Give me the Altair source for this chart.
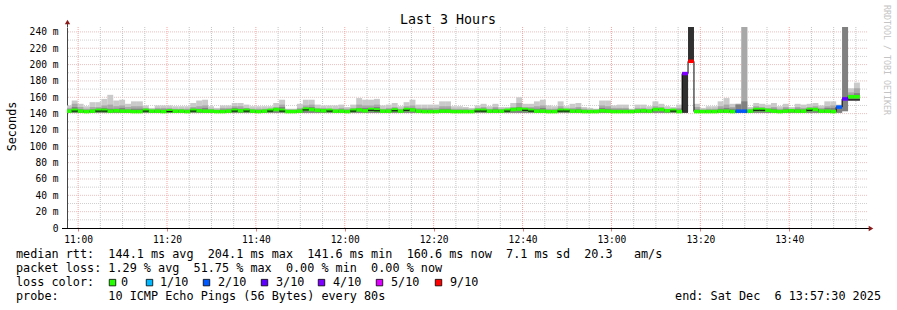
import altair as alt
import pandas as pd
from datetime import datetime, timedelta

# ---------------- data ----------------
T_START = datetime(2025, 12, 6, 10, 57, 30)
T_END = datetime(2025, 12, 6, 13, 57, 30)
FIRST_BIN = datetime(2025, 12, 6, 10, 57, 14)
STEP_S = 80

# smoke: outer (lightest) top
hi = [150,156,152,149,154,154,158,163,156,157,
      152,155,155,150,147,150,150,150,149,149,
      149,153,156,157,149,147,150,150,153,153,
      151,149,149,149,149,153,157,146,146,152,
      157,157,151,150,150,150,151,148,151,159,
      157,157,158,150,151,153,149,154,157,151,
      151,151,151,155,155,149,149,148,147,150,
      152,149,152,148,148,153,160,152,152,155,
      157,150,149,155,149,152,153,148,147,146,
      156,156,150,151,151,146,151,151,149,155,
      152,149,148,151,190,250,152,147,149,149,
      155,159,152,152,250,148,153,152,151,153,
      149,152,148,152,151,152,153,150,155,155,
      151,250,171,178]
# smoke: middle band top
mid = [147,152,148,146,148,148,150,151,149,150,
       148,149,149,147,145,147,147,147,146,146,
       146,148,149,150,146,145,147,147,149,149,
       147,146,146,146,146,148,151,145,145,147,
       150,151,147,147,146,146,147,146,147,151,
       150,150,151,146,147,148,146,149,150,147,
       147,147,147,149,149,146,146,146,145,147,
       148,146,148,146,146,148,153,148,148,149,
       150,146,146,149,146,147,148,146,145,145,
       150,149,147,147,147,145,147,147,146,149,
       148,146,146,147,190,250,148,145,146,146,
       149,151,148,152,250,146,149,148,147,148,
       146,148,146,148,147,148,149,147,149,150,
       148,250,166,171]
# smoke: dark inner band top
dk = [145,148,145,144,145,146,147,146,146,147,
      145,146,146,145,144,145,145,145,144,144,
      144,146,146,147,144,144,145,145,147,146,
      146,144,144,144,145,146,148,144,144,145,
      147,148,145,145,145,144,145,144,145,147,
      147,147,148,144,145,146,144,146,147,145,
      145,145,144,146,146,144,144,144,144,145,
      146,144,146,144,145,146,148,146,146,146,
      147,144,144,146,145,145,146,144,144,144,
      147,146,145,145,145,144,145,145,144,146,
      146,144,144,145,190,250,145,144,144,144,
      146,147,146,151,155,144,147,146,145,146,
      144,146,144,146,145,146,146,145,147,147,
      149,250,163,165]
# smoke bottom
lo = [141,141,141,141,141,141,141,141,141,141,
      141,141,141,141,141,141,141,141,141,141,
      141,141,141,141,141,141,141,141,141,141,
      141,141,141,141,141,141,141,141,141,141,
      141,141,141,141,141,141,141,141,141,141,
      141,141,141,141,141,141,141,141,141,141,
      141,141,141,141,141,141,141,141,141,141,
      141,141,141,141,141,141,141,141,141,141,
      141,141,141,141,141,141,141,141,141,141,
      141,141,141,141,141,141,141,141,141,141,
      141,141,141,141,141,204,141,141,141,141,
      141,141,141,141,141,141,141,141,141,141,
      141,141,141,141,141,141,141,141,141,141,
      141,143,156,156]
# darkest smoke top (only where visible)
blk = [141,141,141,141,141,141,141,141,141,141,
       141,141,141,141,141,141,141,141,141,141,
       141,141,141,141,141,141,141,141,141,141,
       141,141,141,141,141,141,141,141,141,141,
       141,141,141,141,141,141,141,141,141,141,
       141,141,141,141,141,141,141,141,141,141,
       141,141,141,141,141,141,141,141,141,141,
       141,141,141,141,141,141,141,141,141,141,
       141,141,141,141,141,141,141,141,141,141,
       141,141,141,141,141,141,141,141,141,141,
       141,141,141,141,190,250,141,141,141,141,
       141,141,141,141,141,141,141,141,141,141,
       141,141,141,141,141,141,141,141,141,141,
       141,143,158,158]
median = [143,144,143,142.5,143,144,144,143,143.5,143,
          143,142.5,142.5,144,143,143,142.5,143.5,143,143,
          142.5,144,143.5,143,143,142.5,142.5,143,144,143.5,
          144,143,142.5,143,144,145,144,142.5,142.5,143,
          145.5,145,144,143.5,144,143,143,142.5,144,144.5,
          143.5,145,144.5,143,143,144.5,143,145,144.5,143,
          142.5,142.5,142.5,143,143,142.5,142.5,142.5,142.5,144,
          144,143,143,143,144,145,145.5,145,144,143,
          143,142.5,142.5,144,144,143,143,142.5,142.5,142.5,
          143.5,143,142.5,142.5,142.5,142.5,143,143.5,143,145,
          145,143.5,144,142.5,189,204,142.5,142.5,142.5,142.5,
          143,143,142.5,143,143,143,145,145,144,143,
          142.5,143,143.5,143,143,145,145,143,143,142.5,
          148,158,160.6,160.6]
loss = ["0"]*104 + ["4/10", "9/10"] + ["0"]*7 + ["2/10", "2/10"] + ["0"]*15 + ["2/10", "3/10", "0", "0"]
dash_bins = [1,5,6,13,17,21,28,30,34,36,40,44,48,51,52,55,57,69,70,74,77,78,83,84,102,116,117,125]

loss_labels = ["0", "1/10", "2/10", "3/10", "4/10", "5/10", "9/10"]
loss_colors = ["#26ff00", "#00b8ff", "#0059ff", "#5e00ff", "#7e00ff", "#dd00ff", "#ff0000"]

y_major = [20,40,60,80,100,120,140,160,180,200,220,240]
y_minor = [10,30,50,70,90,110,130,150,170,190,210,230]
x_major_min = [0,20,40,60,80,100,120,140,160]          # minutes after 11:00
x_minor_min = [5,10,15,25,30,35,45,50,55,65,70,75,85,90,95,105,110,115,125,130,135,145,150,155,165,170,175]

stats_line = "median rtt:  144.1 ms avg  204.1 ms max  141.6 ms min  160.6 ms now  7.1 ms sd  20.3   am/s"
loss_line = "packet loss: 1.29 % avg  51.75 % max  0.00 % min  0.00 % now"
probe_line = "probe:       10 ICMP Echo Pings (56 Bytes) every 80s"
end_line = "end: Sat Dec  6 13:57:30 2025"

# ---------------- tables ----------------
n = len(hi)
starts = [FIRST_BIN + timedelta(seconds=STEP_S * i) for i in range(n)]
ends = [s + timedelta(seconds=STEP_S) for s in starts]
df = pd.DataFrame({"t0": starts, "t1": ends, "lo": lo, "hi": hi, "mid": mid,
                   "dk": dk, "blk": blk, "med": median, "loss": loss})
df["dash"] = [1 if i in dash_bins else 0 for i in range(n)]

H11 = datetime(2025, 12, 6, 11, 0, 0)
vmaj = pd.DataFrame({"t": [H11 + timedelta(minutes=m) for m in x_major_min]})
vmin = pd.DataFrame({"t": [H11 + timedelta(minutes=m) for m in x_minor_min]})
hmaj = pd.DataFrame({"v": y_major})
hmin = pd.DataFrame({"v": y_minor})

MONO = "DejaVu Sans Mono"
W, HGT = 800, 201

def dt(d):
    return alt.DateTime(year=d.year, month=d.month, date=d.day,
                        hours=d.hour, minutes=d.minute, seconds=d.second)

xs = alt.Scale(domain=[dt(T_START), dt(T_END)])
ys = alt.Scale(domain=[0, 246], nice=False)
xaxis = alt.Axis(values=[dt(H11 + timedelta(minutes=m)) for m in x_major_min],
                 format="%H:%M", labelFont=MONO, labelFontSize=9.6, labelColor="#000",
                 labelPadding=3, tickSize=3, tickColor="#e08080", grid=False,
                 domainColor="#000", title=None)
yaxis = alt.Axis(values=[0] + y_major, labelExpr="datum.value == 0 ? '0' : datum.value + ' m'",
                 labelFont=MONO, labelFontSize=9.6, labelColor="#000", labelPadding=9,
                 ticks=False, grid=False, domainColor="#444", title=None)

def X(f):
    return alt.X(f, type="temporal", scale=xs, axis=xaxis)

def Y(f):
    return alt.Y(f, type="quantitative", scale=ys, axis=yaxis)

base = alt.Chart(df)
smoke1 = base.mark_rect(color="#cacaca", clip=True).encode(x=X("t0"), x2="t1", y=Y("lo"), y2="hi")
smoke2 = base.mark_rect(color="#a8a8a8", clip=True).encode(x=X("t0"), x2="t1", y=Y("lo"), y2="mid")
smoke3 = base.mark_rect(color="#808080", clip=True).encode(x=X("t0"), x2="t1", y=Y("lo"), y2="dk")
smoke4 = base.mark_rect(color="#303030", clip=True).encode(x=X("t0"), x2="t1", y=Y("lo"), y2="blk")

g_vmin = alt.Chart(vmin).mark_rule(color="#c4c4c4", strokeDash=[1, 1], strokeWidth=1).encode(x=X("t"))
g_vmaj = alt.Chart(vmaj).mark_rule(color="#f4a4a4", strokeDash=[1, 1], strokeWidth=1).encode(x=X("t"))
g_hmin = alt.Chart(hmin).mark_rule(color="#d0d0d0", strokeDash=[1, 1], strokeWidth=1).encode(y=Y("v"))
g_hmaj = alt.Chart(hmaj).mark_rule(color="#ecc0c0", strokeDash=[1, 1], strokeWidth=1).encode(y=Y("v"))

stepline = base.mark_line(interpolate="step-after", color="#000", strokeWidth=1, clip=True).encode(
    x=X("t0"), y=Y("med"))
medrule = base.mark_rule(strokeWidth=3.5, clip=True).encode(
    x=X("t0"), x2="t1", y=Y("med"),
    color=alt.Color("loss:N", scale=alt.Scale(domain=loss_labels, range=loss_colors), legend=None))
dashes = base.transform_filter("datum.dash == 1").mark_rule(
    strokeWidth=1.2, color="#1a1a1a", yOffset=0.8, clip=True).encode(x=X("t0"), x2="t1", y=Y("med"))

one = pd.DataFrame({"a": [0]})
# axis-line extensions and arrow heads (decoration)
y_ext = alt.Chart(one).mark_rule(color="#444", strokeWidth=1).encode(
    x=alt.value(0.5), y=alt.value(-5), y2=alt.value(0))
x_ext = alt.Chart(one).mark_rule(color="#000", strokeWidth=1).encode(
    x=alt.value(-5), x2=alt.value(803), y=alt.value(HGT + 0.5))
arrow_up = alt.Chart(one).mark_point(shape="triangle-up", filled=True, color="#8b1a1a", size=28, opacity=1).encode(
    x=alt.value(0.5), y=alt.value(-5))
arrow_rt = alt.Chart(one).mark_point(shape="triangle-right", filled=True, color="#8b1a1a", size=28, opacity=1).encode(
    x=alt.value(804), y=alt.value(HGT + 0.5))

def txt(s, x, y, size=11.8, align="left", baseline="alphabetic", angle=0, color="#000"):
    d = pd.DataFrame({"t": [s.replace(" ", "\u00a0")]})
    return alt.Chart(d).mark_text(font=MONO, fontSize=size, align=align, baseline=baseline,
                                  angle=angle, color=color).encode(
        x=alt.value(x), y=alt.value(y), text="t:N")

texts = [
    txt("Last 3 Hours", 381, -3, size=13.3, align="center"),
    txt("Seconds", -55.5, 99.5, size=11.8, align="center", baseline="middle", angle=270),
    txt("RRDTOOL / TOBI OETIKER", 819, -22, size=8.3, align="left", baseline="middle", angle=90, color="#c4c4c4"),
    txt(stats_line, -51, 231),
    txt(loss_line, -51, 245),
    txt("loss color:", -51, 259),
    txt(probe_line, -51, 273),
    txt(end_line, 814, 273, align="right"),
]

sq_centers = [112.5, 149.5, 206.5, 264.5, 321.5, 379.5, 438.5]
lbl_x = [121, 160, 218, 276, 333, 391, 450]
legend_layers = []
for lab, col, sx, tx in zip(loss_labels, loss_colors, sq_centers, lbl_x):
    legend_layers.append(alt.Chart(one).mark_square(size=42, filled=True, color=col, stroke="#000",
                                                     strokeWidth=0.8, opacity=1).encode(
        x=alt.value(sx - 67), y=alt.value(255.6)))
    legend_layers.append(txt(lab, tx - 67, 259))

chart = alt.layer(
    g_vmin, g_hmin, g_hmaj, g_vmaj,
    smoke1, smoke2, smoke3, smoke4,
    stepline, medrule, dashes,
    y_ext, x_ext, arrow_up, arrow_rt, *texts, *legend_layers
).properties(
    width=W, height=HGT,
    padding={"left": 67, "top": 27, "right": 30, "bottom": 82},
    autosize=alt.AutoSizeParams(type="none"),
    background="#ffffff",
).configure_view(strokeWidth=0)

chart.save("out.html", embed_options={"renderer": "svg", "actions": False})
